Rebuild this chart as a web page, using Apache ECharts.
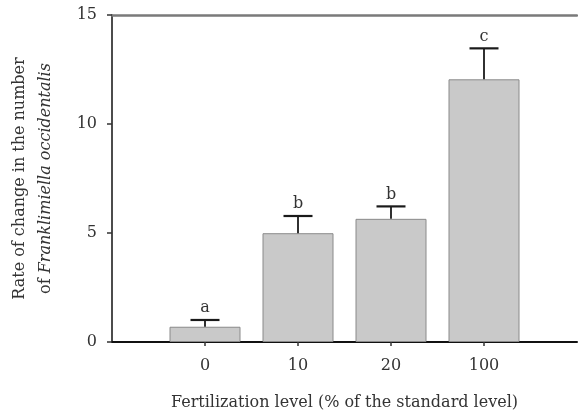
<!DOCTYPE html>
<html>
<head>
<meta charset="utf-8">
<script src="https://cdn.jsdelivr.net/npm/echarts@6/dist/echarts.min.js"></script>
<style>html,body{margin:0;padding:0;background:#fff;}#c{width:578px;height:417px;}</style>
</head>
<body>
<div id="c"></div>
<script>
// Data
var categories = ['', '0', '10', '20', '100', ''];
var means = [null, 0.70, 4.99, 5.65, 12.05, null];
var errUpper = [null, 1.01, 5.78, 6.22, 13.47, null];
var letters = ['', 'a', 'b', 'b', 'c', ''];
var yTicks = [0, 5, 10, 15];

var FONT = '"DejaVu Serif", "Liberation Serif", serif';
var FS = 16;

var errData = [];
for (var i = 0; i < categories.length; i++) {
  if (means[i] != null) errData.push([i, means[i], errUpper[i], letters[i]]);
}

var chart = echarts.init(document.getElementById('c'), null, {renderer: 'canvas'});
chart.setOption({
  animation: false,
  backgroundColor: '#fff',
  grid: {left: 112, right: 1, top: 15, bottom: 75, containLabel: false, outerBoundsMode: 'none'},
  xAxis: [{
    type: 'category',
    data: categories,
    boundaryGap: false,
    position: 'bottom',
    axisLine: {lineStyle: {color: '#111', width: 2}},
    axisTick: {show: true, length: 4, lineStyle: {color: '#333', width: 1.5},
      interval: function (idx, val) { return val !== ''; }},
    axisLabel: {color: '#333', fontFamily: FONT, fontSize: FS, margin: 16, interval: 0},
    name: 'Fertilization level (% of the standard level)',
    nameLocation: 'middle',
    nameGap: 53,
    nameTextStyle: {color: '#333', fontFamily: FONT, fontSize: FS},
    splitLine: {show: false}
  }, {
    type: 'category',
    data: categories,
    boundaryGap: false,
    position: 'top',
    axisLine: {lineStyle: {color: '#7a7a7a', width: 2.5}},
    axisTick: {show: false},
    axisLabel: {show: false},
    splitLine: {show: false}
  }],
  yAxis: {
    type: 'value',
    min: 0, max: 15, interval: 5,
    axisLine: {show: true, lineStyle: {color: '#111', width: 1.5}},
    axisTick: {show: true, length: 5, lineStyle: {color: '#333', width: 1.5}},
    axisLabel: {color: '#333', fontFamily: FONT, fontSize: FS, margin: 15},
    splitLine: {show: false},
    name: '{n|Rate of change in the number}\n{n|of }{i|Franklimiella occidentalis}',
    nameLocation: 'middle',
    nameRotate: 90,
    nameGap: 53,
    nameTextStyle: {
      color: '#333', fontFamily: FONT, fontSize: FS, lineHeight: 26,
      rich: {
        n: {fontFamily: FONT, fontSize: FS, color: '#333', lineHeight: 26},
        i: {fontFamily: FONT, fontSize: FS, color: '#333', fontStyle: 'italic', lineHeight: 26}
      }
    }
  },
  series: [{
    type: 'bar',
    xAxisIndex: 0,
    data: means,
    barWidth: 71,
    itemStyle: {color: '#c9c9c9', borderColor: '#8a8a8a', borderWidth: 1}
  }, {
    type: 'custom',
    xAxisIndex: 0,
    data: errData,
    z: 5,
    renderItem: function (params, api) {
      var x = api.value(0);
      var lo = api.coord([x, api.value(1)]);
      var hi = api.coord([x, api.value(2)]);
      var half = 14.5;
      return {
        type: 'group',
        children: [
          {type: 'line', shape: {x1: lo[0], y1: lo[1], x2: hi[0], y2: hi[1]},
            style: {stroke: '#1a1a1a', lineWidth: 1.8}},
          {type: 'line', shape: {x1: hi[0] - half, y1: hi[1], x2: hi[0] + half, y2: hi[1]},
            style: {stroke: '#1a1a1a', lineWidth: 2.2}},
          {type: 'text', x: hi[0], y: hi[1] - 4,
            style: {text: api.value(3), fill: '#333', font: FS + 'px ' + FONT,
              align: 'center', verticalAlign: 'bottom'}}
        ]
      };
    },
    encode: {x: 0, y: 2}
  }]
});
</script>
</body>
</html>
